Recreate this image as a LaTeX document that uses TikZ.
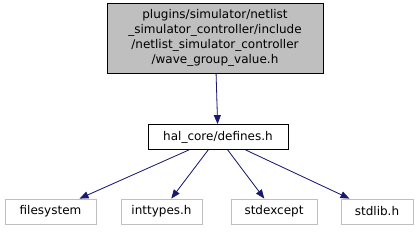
\documentclass[tikz,border=0pt]{standalone}
\usepackage{fontspec}
\setmainfont{DejaVu Sans}
\usetikzlibrary{arrows.meta,positioning}
\definecolor{edgeblue}{HTML}{191970}
\definecolor{boxgray}{HTML}{BFBFBF}
\tikzset{
  filebox/.style={rectangle, draw=#1, line width=0.8pt, inner sep=0pt,
                  align=center, font=\fontsize{12}{15}\selectfont, minimum height=25pt},
  arr/.style={-{Triangle[length=9pt,width=7pt]}, line width=0.8pt, draw=edgeblue, fill=edgeblue},
}
\begin{document}
\begin{tikzpicture}[x=1pt,y=-1pt]
    \useasboundingbox (0,0) rectangle (418,231);
    \node[filebox=black, fill=boxgray, minimum width=216pt, minimum height=70pt] (wgv) at (215,38)
      {plugins/simulator/netlist\\\_simulator\_controller/include\\/netlist\_simulator\_controller\\/wave\_group\_value.h};
    \node[filebox=black, minimum width=140pt] (def) at (218,137) {hal\_core/defines.h};
    \node[filebox=boxgray, minimum width=91pt] (fs) at (50.5,211.5) {filesystem};
    \node[filebox=boxgray, minimum width=81pt] (it) at (161.5,211.5) {inttypes.h};
    \node[filebox=boxgray, minimum width=86pt] (se) at (274,211.5) {stdexcept};
    \node[filebox=boxgray, minimum width=72pt] (sl) at (377,211.5) {stdlib.h};
    \draw[arr] (wgv) -- (def);
    \draw[arr] (def) -- (fs); \draw[arr] (def) -- (it);
    \draw[arr] (def) -- (se); \draw[arr] (def) -- (sl);
\end{tikzpicture}
\end{document}
